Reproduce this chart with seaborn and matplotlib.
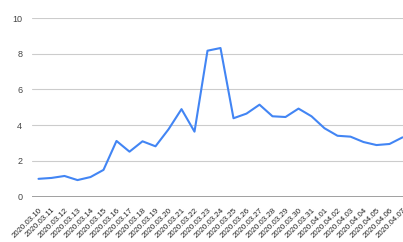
import matplotlib
matplotlib.use("Agg")
import matplotlib.pyplot as plt
import seaborn as sns
import pandas as pd

dates = ["2020.03.10", "2020.03.11", "2020.03.12", "2020.03.13", "2020.03.14",
         "2020.03.15", "2020.03.16", "2020.03.17", "2020.03.18", "2020.03.19",
         "2020.03.20", "2020.03.21", "2020.03.22", "2020.03.23", "2020.03.24",
         "2020.03.25", "2020.03.26", "2020.03.27", "2020.03.28", "2020.03.29",
         "2020.03.30", "2020.03.31", "2020.04.01", "2020.04.02", "2020.04.03",
         "2020.04.04", "2020.04.05", "2020.04.06", "2020.04.07"]
values = [1.0, 1.05, 1.16, 0.93, 1.1, 1.5, 3.12, 2.52, 3.1, 2.82,
          3.77, 4.9, 3.64, 8.17, 8.32, 4.39, 4.65, 5.15, 4.5, 4.46,
          4.93, 4.5, 3.83, 3.41, 3.36, 3.06, 2.89, 2.95, 3.32]
y_ticks = [0, 2, 4, 6, 8, 10]

sns.set_theme(style="white")
plt.rcParams['font.family'] = ['Liberation Sans', 'DejaVu Sans']

df = pd.DataFrame({"idx": range(len(dates)), "value": values})

W, H = 403, 242
fig = plt.figure(figsize=(W / 100, H / 100), dpi=100)
ax = fig.add_axes([32 / W, (H - 196.7) / H, (W - 32) / W, (196.7 - 18) / H])

ax.set_ylim(0, 10)
ax.set_xlim(-0.5, -0.5 + (W - 32) / 13.0)
for t in y_ticks[1:]:
    ax.axhline(t, color="#cccccc", lw=0.8, zorder=0)
ax.axhline(0, color="#999999", lw=1.3, zorder=1)

sns.lineplot(data=df, x="idx", y="value", ax=ax, color="#4285f4", lw=1.5, zorder=3)

for s in ax.spines.values():
    s.set_visible(False)
ax.set_xlabel("")
ax.set_ylabel("")
ax.set_yticks(y_ticks)
ax.set_yticklabels([str(t) for t in y_ticks], fontsize=6.5, color="#444444")
ax.set_xticks(range(len(dates)))
ax.set_xticklabels(dates, rotation=45, ha="right", rotation_mode="anchor",
                   fontsize=5.7, color="#222222")
ax.tick_params(axis="x", length=0, pad=7)
ax.tick_params(axis="y", length=0, pad=7)

fig.savefig("out.png", dpi=100)
